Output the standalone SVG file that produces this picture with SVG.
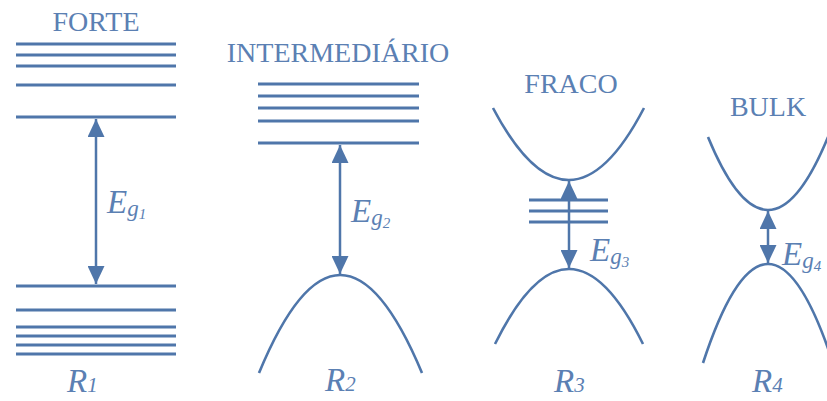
<svg xmlns="http://www.w3.org/2000/svg" width="827" height="401" viewBox="0 0 827 401">
<style>
.lv{stroke:#4f76aa;stroke-width:3;fill:none}
.cv{stroke:#4f76aa;stroke-width:2.6;fill:none}
.ar{stroke:#4f76aa;stroke-width:2.5;fill:none;marker-start:url(#ah);marker-end:url(#ah)}
.t{font-family:"Liberation Serif","Times New Roman",serif;font-size:28px;fill:#5b80b3;text-anchor:middle}
.e{font-family:"Liberation Serif","Times New Roman",serif;font-style:italic;font-size:33px;fill:#5b80b3}
.g{font-size:23px}
.n{font-size:15px}
.r{font-size:33px}
.rs{font-size:21px}
</style>
<defs>
<marker id="ah" viewBox="0 0 18 17" refX="18" refY="8.5" markerWidth="18" markerHeight="17" markerUnits="userSpaceOnUse" orient="auto-start-reverse">
<path d="M0,0 L18,8.5 L0,17 z" fill="#4f76aa"/>
</marker>
</defs>
<rect width="827" height="401" fill="#ffffff"/>
<g id="forte">
<text class="t" x="96" y="31">FORTE</text>
<path class="lv" d="M16,44H176M16,55H176M16,66H176M16,85H176M16,117H176"/>
<path class="lv" d="M16,286H176M16,310H176M16,327H176M16,336H176M16,345H176M16,354H176"/>
<text class="e" x="107" y="213">E<tspan class="g" dy="3">g</tspan><tspan class="n" dy="3">1</tspan></text>
<text class="e r" x="67" y="392">R<tspan class="rs">1</tspan></text>
</g>
<g id="intermediario">
<text class="t" x="338" y="62">INTERMEDIÁRIO</text>
<path class="lv" d="M258,84H419M258,96H419M258,108H419M258,121H419M258,143H419"/>
<path class="cv" d="M259,373 Q340,177 422,373"/>
<text class="e" x="351" y="222">E<tspan class="g" dy="3">g</tspan><tspan class="n" dy="3">2</tspan></text>
<text class="e r" x="325" y="391">R<tspan class="rs">2</tspan></text>
</g>
<g id="fraco">
<text class="t" x="571" y="93">FRACO</text>
<path class="cv" d="M493,108 Q569,252 644,108"/>
<path class="lv" d="M529,200H608M529,211H608M529,222H608" stroke-width="2.5"/>
<path class="cv" d="M495,344 Q569,194 643,344"/>
<text class="e" x="590" y="261">E<tspan class="g" dy="3">g</tspan><tspan class="n" dy="3">3</tspan></text>
<text class="e r" x="554" y="392">R<tspan class="rs">3</tspan></text>
</g>
<g id="bulk">
<text class="t" x="768" y="116">BULK</text>
<path class="cv" d="M708,137 Q768,283 828,137"/>
<path class="cv" d="M703,363 Q768,165 833,363"/>
<text class="e" x="782" y="265">E<tspan class="g" dy="3">g</tspan><tspan class="n" dy="3">4</tspan></text>
<text class="e r" x="752" y="392">R<tspan class="rs">4</tspan></text>
</g>
<g id="connectors">
<line class="ar" x1="96" y1="119" x2="96" y2="284"/>
<line class="ar" x1="340" y1="145" x2="340" y2="274"/>
<line class="ar" x1="569" y1="181" x2="569" y2="268"/>
<line class="ar" x1="768" y1="211" x2="768" y2="263"/>
</g>
</svg>
